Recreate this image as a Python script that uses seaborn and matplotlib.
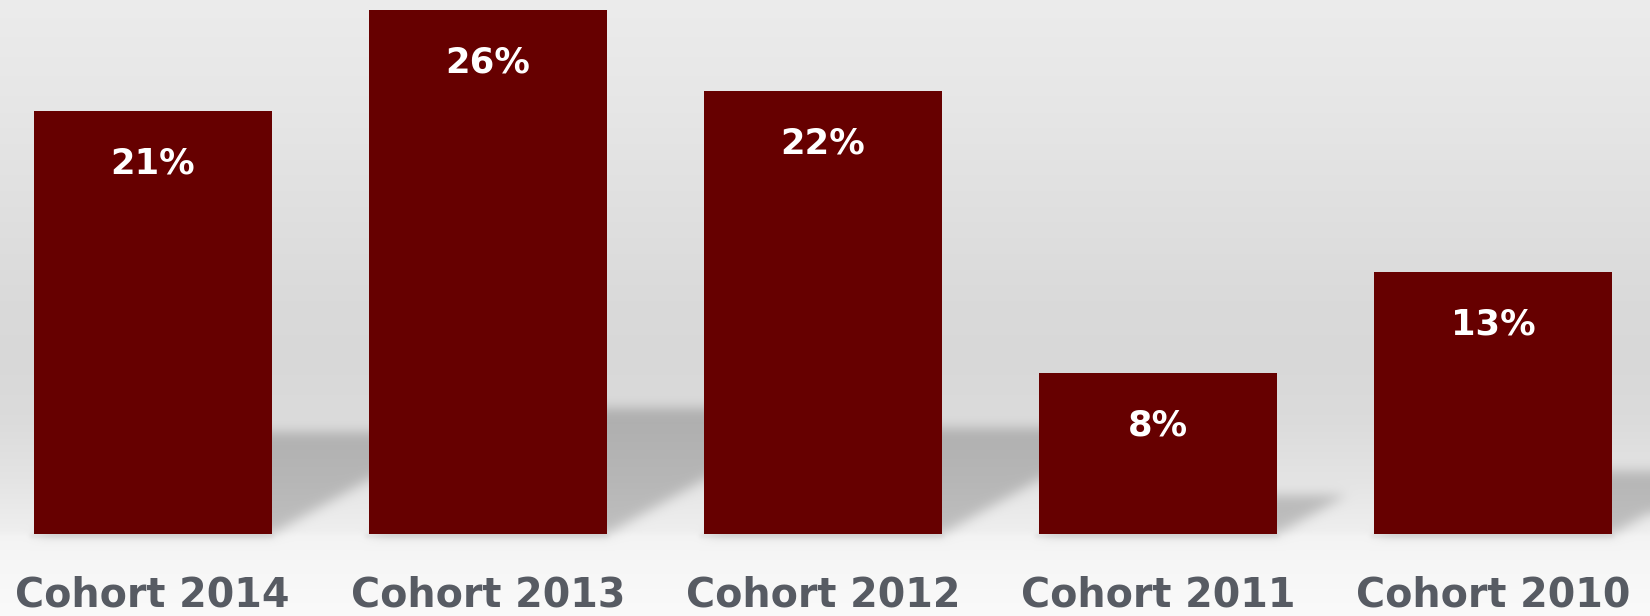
import numpy as np
import pandas as pd
import matplotlib
matplotlib.use("Agg")
import matplotlib.pyplot as plt
import seaborn as sns
from matplotlib.path import Path

# ---- data ----
categories = ["Cohort 2014", "Cohort 2013", "Cohort 2012", "Cohort 2011", "Cohort 2010"]
values = [21, 26, 22, 8, 13]
value_labels = ["21%", "26%", "22%", "8%", "13%"]

W, H = 1650, 616
BAR_COLOR = "#660000"
TEXT_COLOR = "#575b63"

sns.set_theme(style="white")
plt.rcParams["font.family"] = ["DejaVu Sans"]

fig = plt.figure(figsize=(W / 100, H / 100), dpi=100)
bg_ax = fig.add_axes([0, 0, 1, 1], zorder=0)
bg_ax.axis("off")
ax = fig.add_axes([0, 82 / H, 1, 534 / H], zorder=1)
ax.patch.set_alpha(0)

df = pd.DataFrame({"cohort": categories, "value": values})
sns.barplot(data=df, x="cohort", y="value", color=BAR_COLOR, saturation=1,
            width=0.71, linewidth=0, ax=ax)
ax.set_xlim(-0.4554, 4.4686)
ax.set_ylim(0, 26.5)
ax.set_xlabel("")
ax.set_ylabel("")
ax.set_yticks([])
for s in ax.spines.values():
    s.set_visible(False)
ax.set_xticks(range(len(categories)))
ax.set_xticklabels(categories, va="baseline", fontsize=28.5, fontweight="bold",
                   color=TEXT_COLOR)
ax.tick_params(axis="x", length=0, pad=52)

for p, lab in zip(ax.patches, value_labels):
    ax.annotate(lab, (p.get_x() + p.get_width() / 2, p.get_height()),
                xytext=(0, -45), textcoords="offset points",
                ha="center", va="baseline", color="white",
                fontsize=25.5, fontweight="bold")

# ---- background with gradient and perspective shadows ----
fig.canvas.draw()

def blur(a, s):
    r = int(3 * s)
    x = np.arange(-r, r + 1)
    k = np.exp(-x ** 2 / (2 * s * s))
    k /= k.sum()
    p = np.pad(a, ((r, r), (0, 0)), mode="edge")
    a = sum(k[i] * p[i:i + a.shape[0]] for i in range(2 * r + 1))
    p = np.pad(a, ((0, 0), (r, r)), mode="edge")
    a = sum(k[i] * p[:, i:i + a.shape[1]] for i in range(2 * r + 1))
    return a

prof_y = [0, 100, 200, 300, 360, 420, 480, 530, 536, 560, 616]
prof_v = [0.925, 0.905, 0.88, 0.855, 0.848, 0.86, 0.895, 0.935, 0.955, 0.965, 0.98]
col = np.interp(np.arange(H), prof_y, prof_v)
bg = np.repeat(col[:, None], W, axis=1)

yy, xx = np.mgrid[0:H, 0:W]
pts = np.column_stack([xx.ravel() + 0.5, yy.ravel() + 0.5])
mask = np.zeros(H * W)
under = np.zeros((H, W))
for p in ax.patches:
    (x0, y0), (x1, y1) = ax.transData.transform(
        [(p.get_x(), 0), (p.get_x() + p.get_width(), p.get_height())])
    yb = H - y0
    yt = H - y1
    h = yb - yt
    a_, b_ = 0.43, 0.24
    poly = Path([(x0, yb), (x1, yb), (x1 + a_ * h, yb - b_ * h),
                 (x0 + a_ * h, yb - b_ * h), (x0, yb)])
    mask = np.maximum(mask, poly.contains_points(pts).astype(float))
    under[int(yb):int(yb) + 4, int(x0) - 3:int(x1) + 3] = 1.0
mask = blur(mask.reshape(H, W), 6)
under = blur(under, 2)
img = bg * (1 - 0.20 * mask) * (1 - 0.07 * under)
img = np.clip(img, 0, 1)
rgb = np.dstack([img, img, img])
bg_ax.imshow(rgb, extent=[0, W, H, 0], aspect="auto", interpolation="nearest")
bg_ax.set_xlim(0, W)
bg_ax.set_ylim(H, 0)

fig.savefig("out.png", dpi=100)
